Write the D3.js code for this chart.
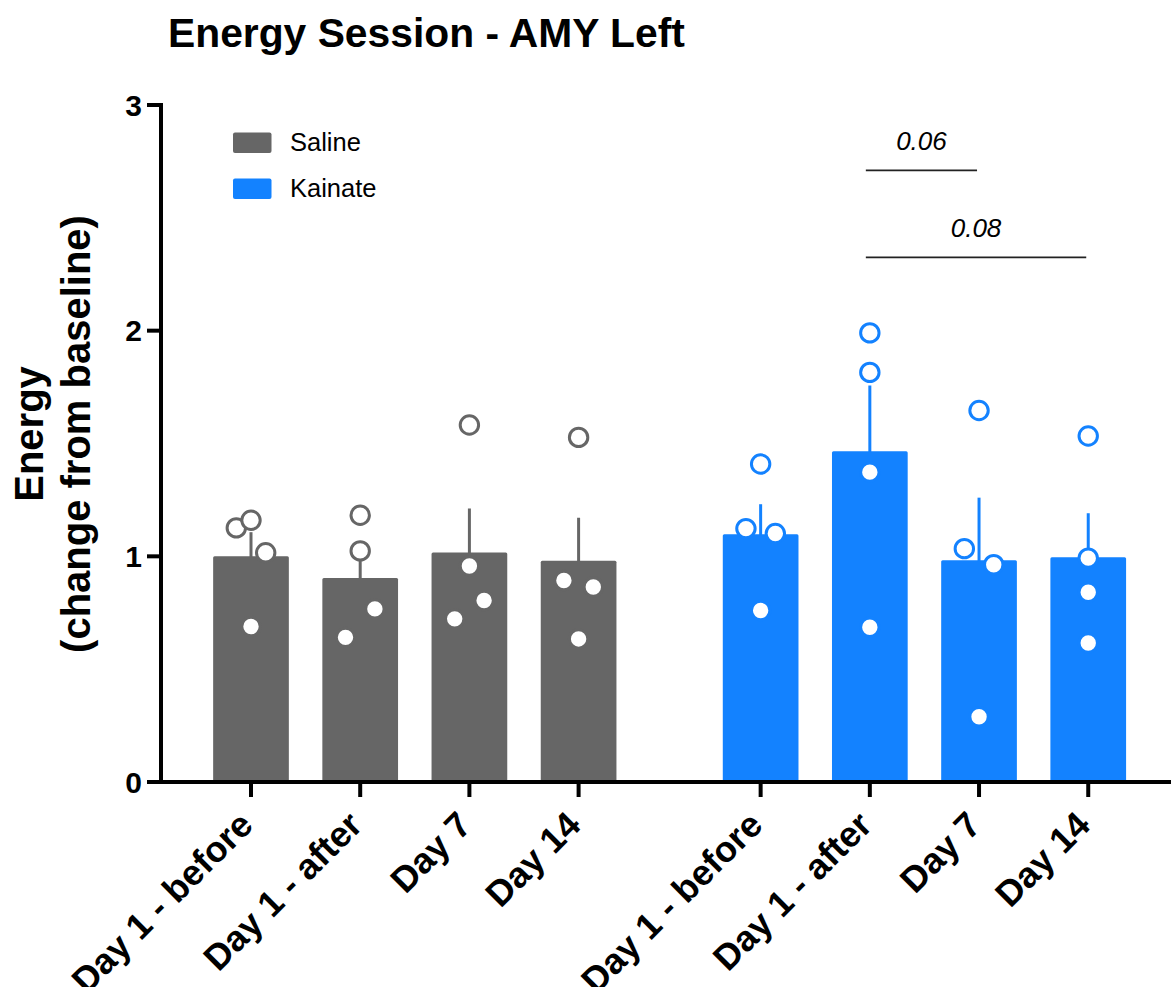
<!DOCTYPE html>
<html>
<head>
<meta charset="utf-8">
<script src="https://cdn.jsdelivr.net/npm/d3@7"></script>
<style>
  html, body { margin: 0; padding: 0; background: #fff; }
  svg { display: block; font-family: "Liberation Sans", Arial, Helvetica, sans-serif; }
</style>
</head>
<body>
<svg id="chart" width="1171" height="987"></svg>
<script>
// Energy (change from baseline) per session day, left amygdala
const categories = ["Day 1 - before", "Day 1 - after", "Day 7", "Day 14"];
const groups = ["Saline", "Kainate"];
const groupColors = ["#666666", "#1382FF"];

// Group means and SEM
const salineMean = [1.000, 0.904, 1.017, 0.980];
const salineSem = [0.107, 0.122, 0.195, 0.191];
const kainateMean = [1.098, 1.466, 0.983, 0.996];
const kainateSem = [0.133, 0.291, 0.277, 0.195];

// Individual animals (n = 4 per day)
const salinePoints = [
  [1.126, 1.160, 1.016, 0.689],
  [1.182, 1.024, 0.767, 0.641],
  [1.582, 0.957, 0.804, 0.723],
  [1.527, 0.893, 0.864, 0.634]
];
const kainatePoints = [
  [1.409, 1.123, 1.101, 0.760],
  [1.990, 1.815, 1.373, 0.686],
  [1.646, 1.034, 0.963, 0.289],
  [1.533, 0.992, 0.841, 0.616]
];
// Scatter column of each point (-1 left, 0 centre, 1 right)
const salineCols = [[-1, 0, 1, 0], [0, 0, 1, -1], [0, 0, 1, -1], [0, -1, 1, 0]];
const kainateCols = [[0, -1, 1, 0], [0, 0, 0, 0], [0, -1, 1, 0], [0, 0, 0, 0]];

// Pairwise comparisons within Kainate: [from category, to category, p value, bracket level]
const comparisons = [
  [1, 2, "0.06", 2.71],
  [1, 3, "0.08", 2.325]
];

const yTicks = [0, 1, 2, 3];

const svg = d3.select("#chart");

// Slot positions: four bars per group with a wider gap between groups
const groupGapSlots = 4.667;
const slot = d3.scaleLinear().domain([0, 1]).range([251, 360.2]);
const xPos = (g, i) => slot(g * groupGapSlots + i);
const barWidth = 75.7;
const colStep = 14.7;

const y = d3.scaleLinear().domain([0, 3]).range([782, 105]);

const series = [
  { mean: salineMean, sem: salineSem, pts: salinePoints, cols: salineCols },
  { mean: kainateMean, sem: kainateSem, pts: kainatePoints, cols: kainateCols }
];

// Bars, SEM whiskers and individual points
series.forEach((s, g) => {
  const color = groupColors[g];
  const layer = svg.append("g");
  layer.selectAll("rect.bar").data(s.mean).join("rect")
    .attr("class", "bar")
    .attr("x", (d, i) => xPos(g, i) - barWidth / 2)
    .attr("y", d => y(d))
    .attr("width", barWidth)
    .attr("height", d => y(0) - y(d))
    .attr("rx", 1.5)
    .attr("fill", color);
  layer.selectAll("line.err").data(s.mean).join("line")
    .attr("class", "err")
    .attr("x1", (d, i) => xPos(g, i))
    .attr("x2", (d, i) => xPos(g, i))
    .attr("y1", d => y(d) + 1)
    .attr("y2", (d, i) => y(d + s.sem[i]))
    .attr("stroke", color)
    .attr("stroke-width", 3);
  s.pts.forEach((vals, i) => {
    layer.selectAll(null).data(vals).join("circle")
      .attr("cx", (d, k) => xPos(g, i) + s.cols[i][k] * colStep)
      .attr("cy", d => y(d))
      .attr("r", 9.2)
      .attr("fill", "#fff")
      .attr("stroke", color)
      .attr("stroke-width", 3);
  });
});

// Y axis
const axisColor = "#000";
svg.append("line")
  .attr("x1", 161).attr("x2", 161)
  .attr("y1", y(3) - 2).attr("y2", y(0) + 2)
  .attr("stroke", axisColor).attr("stroke-width", 4);
svg.selectAll("line.ytick").data(yTicks).join("line")
  .attr("class", "ytick")
  .attr("x1", 147).attr("x2", 161)
  .attr("y1", d => y(d)).attr("y2", d => y(d))
  .attr("stroke", axisColor).attr("stroke-width", 4);
svg.selectAll("text.ylab").data(yTicks).join("text")
  .attr("class", "ylab")
  .attr("x", 142)
  .attr("y", d => y(d))
  .attr("dy", "0.36em")
  .attr("text-anchor", "end")
  .attr("font-size", 30)
  .attr("font-weight", "bold")
  .text(d => d);

// X axis
svg.append("line")
  .attr("x1", 147).attr("x2", 1171)
  .attr("y1", y(0)).attr("y2", y(0))
  .attr("stroke", axisColor).attr("stroke-width", 4);
const xItems = [];
groups.forEach((gName, g) => categories.forEach((c, i) => xItems.push({ g, i, c })));
svg.selectAll("line.xtick").data(xItems).join("line")
  .attr("class", "xtick")
  .attr("x1", d => xPos(d.g, d.i)).attr("x2", d => xPos(d.g, d.i))
  .attr("y1", y(0)).attr("y2", y(0) + 15)
  .attr("stroke", axisColor).attr("stroke-width", 4);
svg.selectAll("text.xlab").data(xItems).join("text")
  .attr("class", "xlab")
  .attr("transform", d => `translate(${xPos(d.g, d.i) + 4},${y(0) + 45}) rotate(-45)`)
  .attr("text-anchor", "end")
  .attr("font-size", 36)
  .attr("font-weight", "bold")
  .text(d => d.c);

// Axis title
const yTitle = svg.append("text")
  .attr("transform", "translate(0,434) rotate(-90)")
  .attr("text-anchor", "middle")
  .attr("font-size", 40)
  .attr("font-weight", "bold");
yTitle.append("tspan").attr("x", 0).attr("y", 43).text("Energy");
yTitle.append("tspan").attr("x", 0).attr("y", 90).text("(change from baseline)");

// Chart title
svg.append("text")
  .attr("x", 168).attr("y", 47)
  .attr("font-size", 40.8)
  .attr("font-weight", "bold")
  .text("Energy Session - AMY Left");

// Legend
const legend = svg.append("g");
groups.forEach((gName, g) => {
  const ly = 142.5 + g * 46;
  legend.append("rect")
    .attr("x", 233).attr("y", ly - 10)
    .attr("width", 38.5).attr("height", 20.5)
    .attr("rx", 2)
    .attr("fill", groupColors[g]);
  legend.append("text")
    .attr("x", 290).attr("y", ly + 8.5)
    .attr("font-size", 25.5)
    .text(gName);
});

// Comparison brackets within the Kainate group
comparisons.forEach(([a, b, p, level]) => {
  const x1 = xPos(1, a) - 4, x2 = xPos(1, b) - 2;
  svg.append("line")
    .attr("x1", x1).attr("x2", x2)
    .attr("y1", y(level)).attr("y2", y(level))
    .attr("stroke", "#222").attr("stroke-width", 1.7);
  svg.append("text")
    .attr("x", (x1 + x2) / 2)
    .attr("y", y(level) - 20)
    .attr("text-anchor", "middle")
    .attr("font-size", 26)
    .attr("font-style", "italic")
    .text(p);
});
</script>
</body>
</html>
